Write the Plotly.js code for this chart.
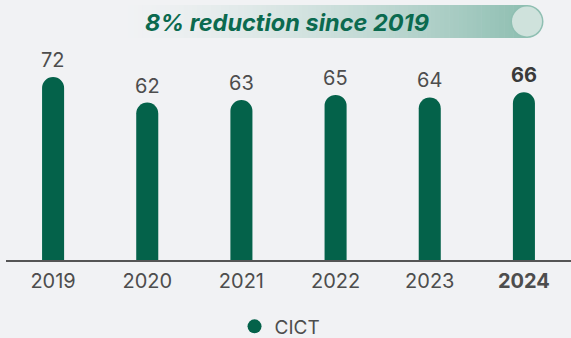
<!DOCTYPE html>
<html><head><meta charset="utf-8">
<script src="https://cdn.plot.ly/plotly-3.0.1.min.js"></script>
<style>html,body{margin:0;padding:0;background:#f1f2f4;}#chart{width:571px;height:338px;}</style>
</head><body><div id="chart"></div>
<script>
const years = ['2019','2020','2021','2022','2023','2024'];
const tickLabels = ['2019','2020','2021','2022','2023','<b>2024</b>'];
const values = [72, 62, 63, 65, 64, 66];
const valueLabels = ['72','62','63','65','64','<b>66</b>'];
const seriesName = 'CICT';
const headline = '<b><i>8% reduction since 2019</i></b>';

const W = 571, H = 338, L = 6, R = 0, T = 40, B = 78;
const pw = W - L - R, ph = H - T - B;
const px = x => (x - L) / pw;
const py = y => (H - B - y) / ph;

const green = '#04624a';
const bg = '#f1f2f4';

// banner gradient made from thin slices
const shapes = [];
const x0 = 115, x1 = 527, yTop = 5, yBot = 38, n = 90;
const c0 = [241,242,244], c1 = [143,191,178];
for (let i = 0; i < n; i++) {
  const t = i / (n - 1);
  const e = Math.pow(t, 1.5);
  const c = c0.map((v, k) => Math.round(v + (c1[k] - v) * e));
  shapes.push({type:'rect', xref:'paper', yref:'paper', layer:'below',
    x0: px(x0 + (x1 - x0) * i / n), x1: px(x0 + (x1 - x0) * (i + 1) / n + 0.6),
    y0: py(yBot), y1: py(yTop), line:{width:0}, fillcolor:`rgb(${c.join(',')})`});
}
shapes.push({type:'circle', xref:'paper', yref:'paper', layer:'below',
  x0: px(x1 - 16.5), x1: px(x1 + 16.5), y0: py(yBot), y1: py(yTop),
  line:{width:0}, fillcolor:'rgb(143,191,178)'});
shapes.push({type:'circle', xref:'paper', yref:'paper', layer:'below',
  x0: px(x1 - 15), x1: px(x1 + 15), y0: py(yBot - 1.5), y1: py(yTop + 1.5),
  line:{width:0}, fillcolor:'#cfe2dc'});

const annotations = years.map((yr, i) => ({
  x: i, y: values[i], xref:'x', yref:'y', text: valueLabels[i], showarrow:false,
  yanchor:'bottom', yshift: 3, font:{family:'Inter, sans-serif', size:20, color: i === 5 ? '#3a3a3a' : '#4d4d4d'}
}));
annotations.push({xref:'paper', yref:'paper', x: px(287), y: py(22.5), xanchor:'center', yanchor:'middle',
  text: headline, showarrow:false, font:{family:'Inter, sans-serif', size:23.5, color:'#0b6a4f'}});

const data = [
  {type:'bar', x: years, y: values, marker:{color: green}, showlegend:false, hoverinfo:'skip'},
  {type:'scatter', mode:'markers', x:[years[0]], y:[null], name: seriesName,
   marker:{color: green, size:14, symbol:'circle'}}
];

const layout = {
  width: W, height: H, margin:{l:L, r:R, t:T, b:B},
  paper_bgcolor: bg, plot_bgcolor: bg,
  bargap: 0.766, barcornerradius: 11,
  xaxis:{type:'category', range:[-0.5, 5.5], tickvals: years, ticktext: tickLabels, showgrid:false, zeroline:false,
    showline:true, linecolor:'#555', linewidth:1.5, ticks:'', ticklabelstandoff: 2, tickangle:0, automargin:false,
    tickfont:{family:'Inter, sans-serif', size:20, color:'#4d4d4d'}, fixedrange:true},
  yaxis:{range:[0, ph / 2.54], visible:false, fixedrange:true, automargin:false},
  showlegend:true,
  legend:{orientation:'h', x:0.485, xanchor:'center', yref:'container', y: 1 - 326.5 / H, yanchor:'middle',
    font:{family:'Inter, sans-serif', size:19, color:'#4d4d4d'}, bgcolor:'rgba(0,0,0,0)', itemwidth:30, tracegroupgap:0},
  shapes: shapes, annotations: annotations
};
Plotly.newPlot('chart', data, layout, {displayModeBar:false, staticPlot:true});
</script></body></html>
